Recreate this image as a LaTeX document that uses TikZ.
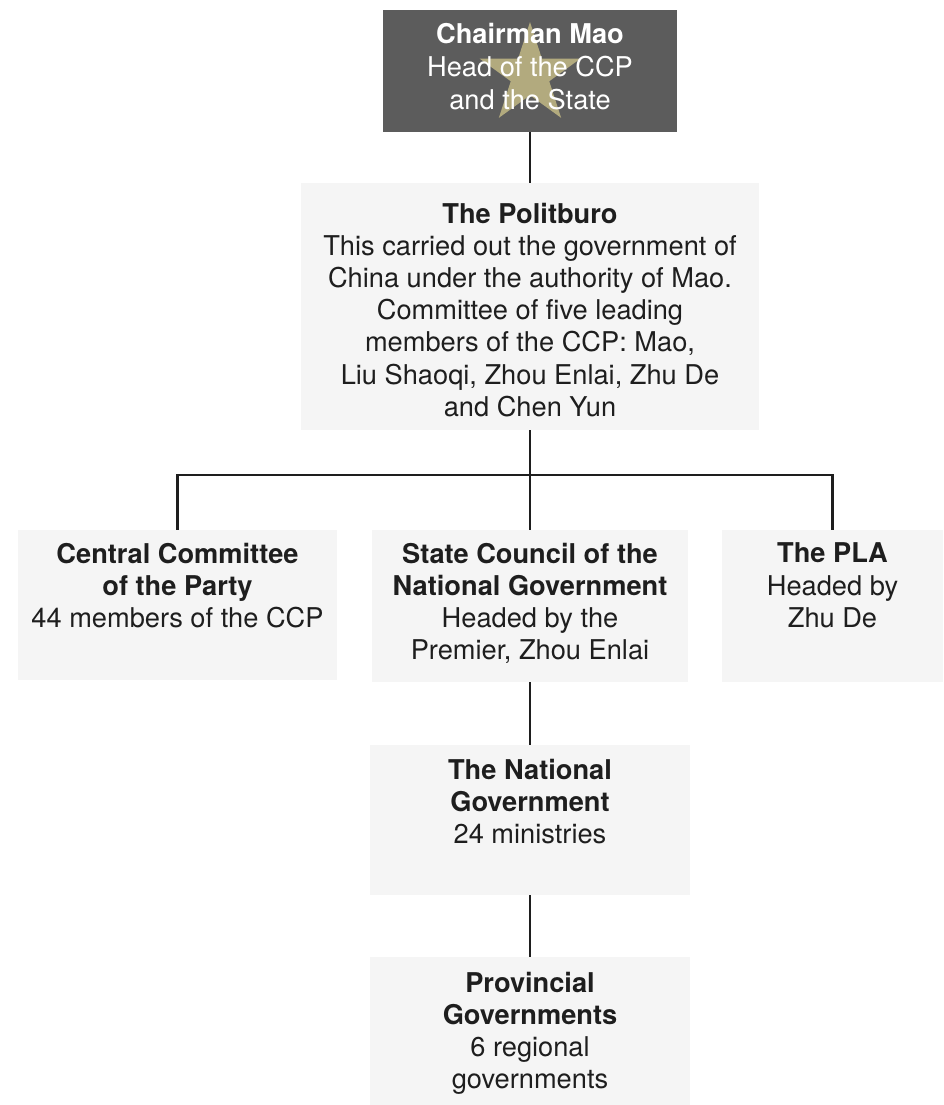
\documentclass[tikz,border=0pt]{standalone}
\usepackage{fontspec}
\setmainfont{TeX Gyre Heros}
\usepackage{xcolor}
\usepackage{tikz}
\usetikzlibrary{shapes.geometric, positioning}

\definecolor{maogrey}{HTML}{5C5C5C}
\definecolor{stargold}{HTML}{B2AA7E}
\definecolor{palegrey}{HTML}{F5F5F5}
\definecolor{inkgrey}{HTML}{1E1E1E}

\begin{document}
\begin{tikzpicture}[x=0.02cm, y=-0.02cm,
    box/.style={rectangle, fill=palegrey, inner sep=0pt},
    boxtext/.style={align=center, inner sep=0pt, text=inkgrey, font=\fontsize{15.5}{18.3}\selectfont},
    link/.style={draw=inkgrey, line width=1.2pt}]
    \useasboundingbox (0,0) rectangle (943,1105);

    \node (Mao) [rectangle, fill=maogrey, inner sep=0pt, minimum width=5.9cm, minimum height=2.44cm] at (530,71) {};
    \fill[stargold, shift={(530,75)}] (90:1.06cm) -- (126:0.405cm) -- (162:1.06cm) -- (198:0.405cm)
        -- (234:1.06cm) -- (270:0.405cm) -- (306:1.06cm) -- (342:0.405cm) -- (18:1.06cm) -- (54:0.405cm) -- cycle;
    \node (MaoText) [boxtext, text=white, font=\fontsize{15.5}{18.8}\selectfont, below=0.26cm of Mao.north] {\textbf{Chairman Mao}\\Head of the CCP\\and the State};

    \node (Polit) [box, minimum width=9.16cm, minimum height=4.94cm] at (530,306.5) {};
    \node (PolitText) [boxtext, below=0.4cm of Polit.north] {\textbf{The Politburo}\\This carried out the government of\\China under the authority of Mao.\\Committee of five leading\\members of the CCP: Mao,\\Liu Shaoqi, Zhou Enlai, Zhu De\\and Chen Yun};

    \node (Central) [box, minimum width=6.38cm, minimum height=3.0cm] at (177.5,605) {};
    \node (CentralText) [boxtext, below=0.26cm of Central.north] {\textbf{Central Committee}\\\textbf{of the Party}\\44 members of the CCP};

    \node (Council) [box, minimum width=6.34cm, minimum height=3.04cm] at (530,606) {};
    \node (CouncilText) [boxtext, below=0.26cm of Council.north] {\textbf{State Council of the}\\\textbf{National Government}\\Headed by the\\Premier, Zhou Enlai};

    \node (PLA) [box, minimum width=4.42cm, minimum height=3.04cm] at (832.5,606) {};
    \node (PLAText) [boxtext, below=0.26cm of PLA.north] {\textbf{The PLA}\\Headed by\\Zhu De};

    \node (NatGov) [box, minimum width=6.4cm, minimum height=3.0cm] at (530,820) {};
    \node (NatGovText) [boxtext, below=0.28cm of NatGov.north] {\textbf{The National}\\\textbf{Government}\\24 ministries};

    \node (Prov) [box, minimum width=6.42cm, minimum height=2.96cm] at (530,1031) {};
    \node (ProvText) [boxtext, below=0.3cm of Prov.north] {\textbf{Provincial}\\\textbf{Governments}\\6 regional\\governments};

    \coordinate (Fork) at (530,475);
    \draw[link] (Mao) -- (Polit);
    \draw[link] (Polit) -- (Council);
    \draw[link] (Central) |- (Fork) -| (PLA);
    \draw[link] (Council) -- (NatGov);
    \draw[link] (NatGov) -- (Prov);
\end{tikzpicture}
\end{document}
